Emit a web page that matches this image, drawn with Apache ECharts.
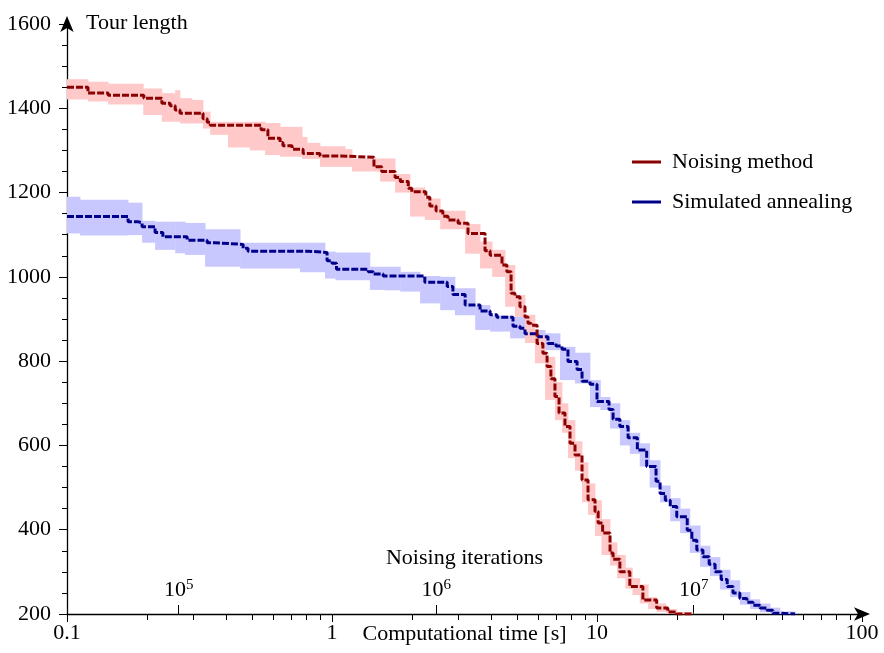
<!DOCTYPE html>
<html>
<head>
<meta charset="utf-8">
<script src="https://cdn.jsdelivr.net/npm/echarts@6/dist/echarts.min.js"></script>
<style>
  html, body { margin: 0; padding: 0; background: #fff; }
  #chart { width: 884px; height: 653px; }
</style>
</head>
<body>
<div id="chart"></div>
<script>
// Noising method: median (step starts) and min/max band
const nmTime = [0.1, 0.120, 0.143, 0.195, 0.228, 0.245, 0.256, 0.267, 0.326, 0.338, 0.347, 0.540, 0.573, 0.637, 0.653, 0.707, 0.778, 0.901, 1.03, 1.44, 1.54, 1.73, 1.81, 1.94, 2.00, 2.26, 2.34, 2.47, 2.62, 2.74, 2.99, 3.26, 3.78, 3.95, 4.38, 4.57, 4.74, 4.90, 5.12, 5.35, 5.49, 5.63, 5.94, 6.25, 6.48, 6.70, 6.94, 7.19, 7.57, 7.91, 8.26, 8.78, 9.25, 9.83, 10.1, 10.5, 11.2, 11.5, 12.2, 13.3, 14.9, 16.8, 18.5, 20.0, 23.0];
const nmLen = [1450, 1436, 1431, 1424, 1412, 1406, 1396, 1388, 1375, 1367, 1360, 1349, 1329, 1319, 1311, 1303, 1293, 1287, 1284, 1261, 1250, 1236, 1226, 1210, 1202, 1189, 1168, 1156, 1144, 1135, 1127, 1103, 1062, 1051, 1028, 1012, 961, 953, 929, 905, 890, 885, 842, 819, 787, 758, 716, 677, 645, 605, 577, 518, 471, 443, 416, 392, 345, 330, 300, 265, 233, 214, 205, 200, 200];

const nmBandTime = [0.1, 0.120, 0.143, 0.194, 0.228, 0.256, 0.267, 0.296, 0.326, 0.347, 0.405, 0.490, 0.559, 0.637, 0.771, 0.805, 0.901, 1.12, 1.19, 1.52, 1.73, 1.97, 2.24, 2.56, 3.18, 3.62, 4.02, 4.50, 4.90, 5.35, 5.83, 6.37, 6.94, 7.38, 7.77, 8.26, 8.78, 9.25, 9.83, 10.4, 11.2, 11.9, 12.8, 13.6, 14.5, 15.6, 16.8, 18.2, 20.0, 23.0];
const nmBandLo = [1421, 1416, 1409, 1384, 1368, 1368, 1364, 1364, 1352, 1337, 1307, 1300, 1289, 1285, 1280, 1280, 1261, 1261, 1250, 1226, 1200, 1143, 1135, 1113, 1055, 1020, 1000, 929, 905, 843, 795, 708, 660, 630, 570, 540, 465, 435, 385, 340, 315, 285, 260, 245, 225, 212, 205, 200, 200];
const nmBandHi = [1469, 1463, 1458, 1447, 1436, 1443, 1424, 1420, 1392, 1368, 1368, 1368, 1365, 1356, 1332, 1318, 1310, 1303, 1281, 1281, 1244, 1212, 1186, 1157, 1125, 1084, 1064, 1028, 957, 910, 860, 810, 750, 700, 660, 610, 560, 510, 470, 425, 370, 340, 310, 285, 270, 240, 225, 212, 205];

// Simulated annealing
const saTime = [0.1, 0.170, 0.185, 0.192, 0.215, 0.230, 0.284, 0.338, 0.362, 0.462, 0.482, 0.805, 0.958, 1.00, 1.04, 1.37, 1.43, 1.56, 2.24, 2.72, 2.86, 3.18, 3.62, 3.95, 4.19, 4.82, 5.12, 5.35, 5.99, 6.53, 7.00, 7.38, 7.77, 8.41, 8.78, 9.41, 10.0, 11.1, 11.5, 12.2, 13.1, 14.2, 15.4, 16.7, 17.3, 18.1, 18.9, 20.0, 21.9, 22.8, 23.8, 25.1, 26.5, 27.9, 29.4, 31.0, 32.6, 34.6, 36.8, 38.8, 41.2, 43.8, 46.1, 49.0, 55.9];
const saLen = [1143, 1131, 1128, 1119, 1105, 1095, 1087, 1081, 1077, 1068, 1061, 1058, 1038, 1032, 1018, 1012, 1007, 1002, 987, 977, 958, 933, 919, 910, 904, 883, 878, 865, 858, 842, 836, 828, 799, 780, 752, 745, 704, 685, 662, 645, 618, 589, 550, 515, 486, 470, 455, 431, 399, 375, 352, 336, 318, 300, 282, 265, 250, 237, 228, 221, 214, 209, 202, 200, 200];

const saBandTime = [0.1, 0.112, 0.170, 0.192, 0.215, 0.256, 0.279, 0.332, 0.450, 0.757, 0.941, 1.03, 1.39, 1.58, 1.81, 2.15, 2.56, 2.91, 3.47, 3.95, 4.70, 5.59, 6.37, 7.25, 8.26, 9.41, 10.3, 11.2, 12.2, 13.3, 14.5, 15.8, 17.3, 18.9, 20.6, 22.4, 24.5, 26.7, 29.1, 31.8, 34.6, 37.8, 41.2, 45.0, 49.0, 55.9];
const saBandLo = [1103, 1098, 1099, 1081, 1064, 1056, 1052, 1024, 1020, 1011, 996, 992, 969, 968, 965, 937, 921, 909, 874, 870, 854, 846, 826, 755, 747, 691, 684, 640, 600, 580, 550, 500, 465, 420, 392, 345, 312, 290, 258, 240, 222, 212, 204, 200, 200];
const saBandHi = [1190, 1183, 1176, 1133, 1131, 1131, 1128, 1113, 1081, 1081, 1060, 1058, 1024, 1024, 1012, 1002, 1000, 973, 933, 908, 905, 874, 866, 834, 820, 755, 715, 700, 660, 630, 605, 565, 505, 475, 450, 410, 362, 335, 305, 280, 252, 235, 225, 215, 206];

// axes
const timeMin = 0.1, timeMax = 100;
const timeMinorTicks = [0.2, 0.3, 0.4, 0.5, 0.6, 0.7, 0.8, 0.9, 2, 3, 4, 5, 6, 7, 8, 9, 20, 30, 40, 50, 60, 70, 80, 90];
const iterExpMin = 4.566, iterExpMax = 7.654;   // log10(noising iterations) at the axis ends
const iterExpTicks = [5, 6, 7];
const lenMin = 200, lenMax = 1600, lenStep = 200;

const FONT = 'Liberation Serif';
const RED = '#8b0000', RED_BAND = '#ffc9c9';
const BLUE = '#00008b', BLUE_BAND = '#c8c8ff';

function pairs(xs, ys) {
  return xs.map((x, i) => [x, ys[i]]);
}
function bandItems(xs, lo, hi) {
  const out = [];
  for (let i = 0; i < lo.length; i++) out.push([xs[i], xs[i + 1], lo[i], hi[i]]);
  return out;
}
function bandRender(color) {
  return function (params, api) {
    const p0 = api.coord([api.value(0), api.value(3)]);
    const p1 = api.coord([api.value(1), api.value(2)]);
    return {
      type: 'rect',
      shape: { x: p0[0], y: p0[1], width: p1[0] - p0[0] + 0.4, height: p1[1] - p0[1] },
      style: { fill: color }
    };
  };
}

const chart = echarts.init(document.getElementById('chart'), null, { renderer: 'canvas' });

const option = {
  backgroundColor: '#fff',
  animation: false,
  textStyle: { fontFamily: FONT, color: '#000' },
  grid: { left: 67, right: 22, top: 24, bottom: 39, containLabel: false, outerBoundsMode: 'none' },
  legend: {
    data: ['Noising method', 'Simulated annealing'],
    orient: 'vertical',
    left: 632,
    top: 151,
    padding: 0,
    icon: 'rect',
    itemWidth: 29,
    itemHeight: 3,
    itemGap: 18,
    selectedMode: false,
    textStyle: { fontFamily: FONT, fontSize: 22, color: '#000', padding: [0, 0, 0, 6] }
  },
  xAxis: [{
    type: 'log',
    logBase: 10,
    min: timeMin,
    max: timeMax,
    position: 'bottom',
    name: 'Computational time [s]',
    nameLocation: 'middle',
    nameGap: 9,
    nameMoveOverlap: false,
    nameTextStyle: { fontFamily: FONT, fontSize: 22, color: '#000' },
    axisLine: { onZero: false, lineStyle: { color: '#000', width: 1.3 }, symbol: ['none', 'arrow'], symbolSize: [10, 16], symbolOffset: [0, 8] },
    axisTick: { show: true, inside: false, length: 8, lineStyle: { color: '#000' } },
    minorTick: { show: false },
    axisLabel: { fontFamily: FONT, fontSize: 22, color: '#000', margin: 8 },
    splitLine: { show: false }
  }, {
    type: 'value',
    min: iterExpMin,
    max: iterExpMax,
    position: 'bottom',
    name: 'Noising iterations',
    nameLocation: 'middle',
    nameGap: -67,
    nameMoveOverlap: false,
    nameTextStyle: { fontFamily: FONT, fontSize: 22, color: '#000' },
    axisLine: { show: false, onZero: false },
    axisTick: { show: true, inside: true, length: 9, customValues: iterExpTicks, lineStyle: { color: '#000' } },
    axisLabel: {
      inside: true,
      margin: 12,
      customValues: iterExpTicks,
      formatter: v => '{a|10}{b|' + v + '}',
      rich: {
        a: { fontFamily: FONT, fontSize: 22, color: '#000' },
        b: { fontFamily: FONT, fontSize: 15, color: '#000', padding: [0, 0, 9, 0] }
      }
    },
    splitLine: { show: false }
  }, {
    type: 'value',
    min: Math.log10(timeMin),
    max: Math.log10(timeMax),
    position: 'bottom',
    axisLine: { show: false, onZero: false },
    axisTick: { show: true, inside: false, length: 6, customValues: timeMinorTicks.map(Math.log10), lineStyle: { color: '#000' } },
    axisLabel: { show: false },
    splitLine: { show: false }
  }],
  yAxis: [{
    type: 'value',
    min: lenMin,
    max: lenMax,
    interval: lenStep,
    name: 'Tour length',
    nameLocation: 'end',
    nameGap: 1,
    nameMoveOverlap: false,
    nameTextStyle: { fontFamily: FONT, fontSize: 22, color: '#000', align: 'left', verticalAlign: 'middle', padding: [0, 0, 0, 19] },
    axisLine: { show: true, onZero: false, lineStyle: { color: '#000', width: 1.3 }, symbol: ['none', 'arrow'], symbolSize: [10, 16], symbolOffset: [0, 8] },
    axisTick: { show: true, length: 8, lineStyle: { color: '#000' } },
    minorTick: { show: true, splitNumber: 4, length: 5, lineStyle: { color: '#000' } },
    axisLabel: { fontFamily: FONT, fontSize: 22, color: '#000', margin: 16, formatter: v => String(v) },
    splitLine: { show: false }
  }],
  series: [{
    name: 'Simulated annealing band',
    type: 'custom',
    xAxisIndex: 0,
    renderItem: bandRender(BLUE_BAND),
    encode: { x: [0, 1], y: [2, 3] },
    data: bandItems(saBandTime, saBandLo, saBandHi),
    silent: true,
    z: 1
  }, {
    name: 'Noising method band',
    type: 'custom',
    xAxisIndex: 0,
    renderItem: bandRender(RED_BAND),
    encode: { x: [0, 1], y: [2, 3] },
    data: bandItems(nmBandTime, nmBandLo, nmBandHi),
    silent: true,
    z: 2
  }, {
    name: 'Simulated annealing',
    type: 'line',
    xAxisIndex: 0,
    step: 'end',
    showSymbol: false,
    color: BLUE,
    itemStyle: { color: BLUE },
    lineStyle: { color: BLUE, width: 3, type: [7, 2] },
    data: pairs(saTime, saLen),
    silent: true,
    z: 3
  }, {
    name: 'Noising method',
    type: 'line',
    xAxisIndex: 0,
    step: 'end',
    showSymbol: false,
    color: RED,
    itemStyle: { color: RED },
    lineStyle: { color: RED, width: 3, type: [7, 2] },
    data: pairs(nmTime, nmLen),
    silent: true,
    z: 4
  }]
};

chart.setOption(option);
</script>
</body>
</html>
